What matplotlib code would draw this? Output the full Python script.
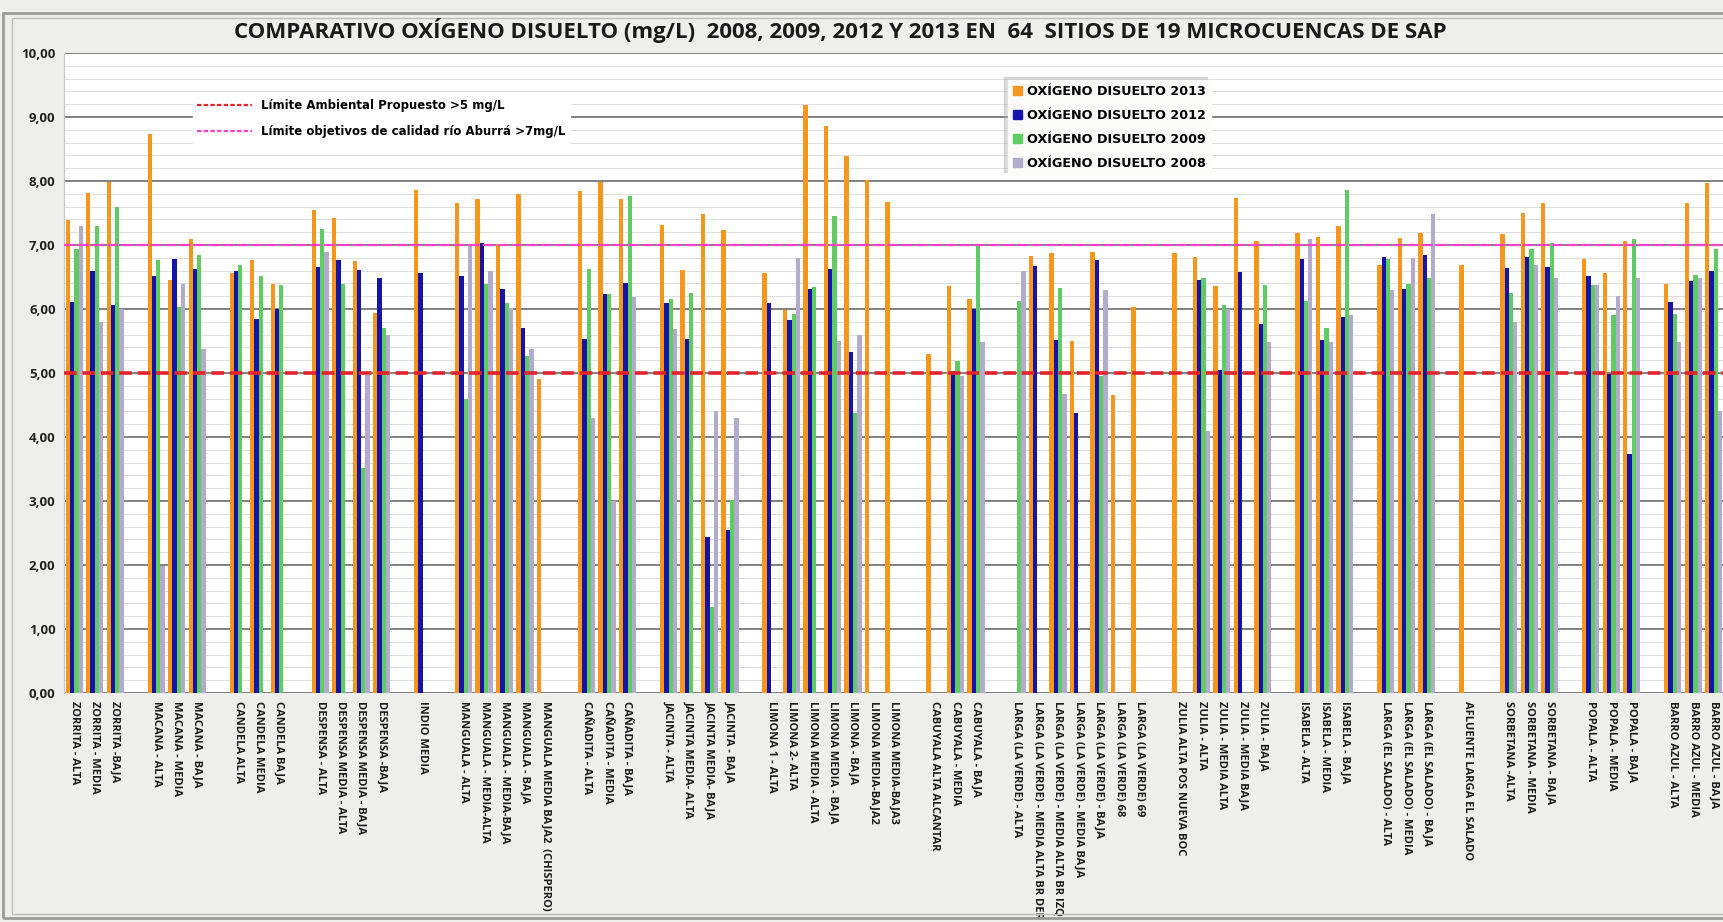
import numpy as np
import matplotlib.pyplot as plt
from matplotlib.lines import Line2D
from matplotlib.patches import Patch, Rectangle
from matplotlib.ticker import MultipleLocator

# sites in chart order, "" marks the empty slot between microcuencas
sites = [
    "ZORRITA - ALTA", "ZORRITA - MEDIA", "ZORRITA -BAJA", "",
    "MACANA - ALTA", "MACANA - MEDIA", "MACANA - BAJA", "",
    "CANDELA ALTA", "CANDELA MEDIA", "CANDELA BAJA", "",
    "DESPENSA - ALTA", "DESPENSA MEDIA - ALTA", "DESPENSA MEDIA - BAJA", "DESPENSA -BAJA", "",
    "INDIO MEDIA", "",
    "MANGUALA - ALTA", "MANGUALA - MEDIA-ALTA", "MANGUALA - MEDIA-BAJA", "MANGUALA - BAJA",
    "MANGUALA MEDIA BAJA2  (CHISPERO)", "",
    "CAÑADITA - ALTA", "CAÑADITA - MEDIA", "CAÑADITA - BAJA", "",
    "JACINTA - ALTA", "JACINTA MEDIA- ALTA", "JACINTA MEDIA- BAJA", "JACINTA - BAJA", "",
    "LIMONA 1 - ALTA", "LIMONA 2- ALTA", "LIMONA MEDIA - ALTA", "LIMONA MEDIA - BAJA",
    "LIMONA - BAJA", "LIMONA MEDIA-BAJA2", "LIMONA MEDIA-BAJA3", "",
    "CABUYALA ALTA ALCANTAR", "CABUYALA - MEDIA", "CABUYALA - BAJA", "",
    "LARGA (LA VERDE) - ALTA", "LARGA (LA VERDE) - MEDIA ALTA BR DER",
    "LARGA (LA VERDE) - MEDIA ALTA BR IZQ", "LARGA (LA VERDE) - MEDIA BAJA",
    "LARGA (LA VERDE) - BAJA", "LARGA (LA VERDE) 68", "LARGA (LA VERDE) 69", "",
    "ZULIA ALTA POS NUEVA BOC", "ZULIA - ALTA", "ZULIA - MEDIA ALTA", "ZULIA - MEDIA BAJA",
    "ZULIA - BAJA", "",
    "ISABELA - ALTA", "ISABELA - MEDIA", "ISABELA - BAJA", "",
    "LARGA (EL SALADO) - ALTA", "LARGA (EL SALADO) - MEDIA", "LARGA (EL SALADO) - BAJA", "",
    "AFLUENTE LARGA EL SALADO", "",
    "SORBETANA -ALTA", "SORBETANA - MEDIA", "SORBETANA - BAJA", "",
    "POPALA - ALTA", "POPALA - MEDIA", "POPALA - BAJA", "",
    "BARRO AZUL - ALTA", "BARRO AZUL - MEDIA", "BARRO AZUL - BAJA",
]

od_2013 = [
    7.39, 7.81, 7.99, None,
    8.73, 6.46, 7.09, None,
    6.56, 6.77, 6.39, None,
    7.54, 7.42, 6.75, 5.94, None,
    7.86, None,
    7.66, 7.72, 7.01, 7.79, 4.91, None,
    7.85, 7.99, 7.72, None,
    7.31, 6.61, 7.49, 7.24, None,
    6.57, 5.98, 9.19, 8.86, 8.39, 8.01, 7.67, None,
    5.29, 6.36, 6.15, None,
    None, 6.83, 6.88, 5.50, 6.89, 4.66, 6.03, None,
    6.88, 6.82, 6.36, 7.74, 7.07, None,
    7.19, 7.12, 7.30, None,
    6.69, 7.11, 7.19, None,
    6.69, None,
    7.17, 7.50, 7.66, None,
    6.78, 6.56, 7.07, None,
    6.39, 7.66, 7.97,
]

od_2012 = [
    6.11, 6.60, 6.07, None,
    6.51, 6.78, 6.63, None,
    6.59, 5.85, 6.00, None,
    6.65, 6.76, 6.61, 6.49, None,
    6.56, None,
    6.52, 7.03, 6.32, 5.71, None, None,
    5.53, 6.23, 6.40, None,
    6.09, 5.53, 2.43, 2.55, None,
    6.09, 5.83, 6.32, 6.63, 5.33, None, None, None,
    None, 5.03, 6.00, None,
    None, 6.67, 5.51, 4.37, 6.76, None, None, None,
    None, 6.45, 5.04, 6.58, 5.77, None,
    6.78, 5.51, 5.88, None,
    6.81, 6.32, 6.84, None,
    None, None,
    6.64, 6.81, 6.65, None,
    6.52, 4.98, 3.73, None,
    6.11, 6.44, 6.59,
]

od_2009 = [
    6.94, 7.29, 7.59, None,
    6.77, 6.03, 6.84, None,
    6.69, 6.52, 6.38, None,
    7.25, 6.39, 3.51, 5.70, None,
    None, None,
    4.59, 6.39, 6.10, 5.27, None, None,
    6.63, 6.23, 7.77, None,
    6.15, 6.25, 1.35, 3.02, None,
    None, 5.92, 6.35, 7.45, 4.38, None, None, None,
    None, 5.18, 7.02, None,
    6.12, None, 6.33, None, 4.96, None, None, None,
    None, 6.49, 6.07, None, 6.38, None,
    6.12, 5.71, 7.86, None,
    6.78, 6.39, 6.49, None,
    None, None,
    6.25, 6.94, 7.03, None,
    6.38, 5.90, 7.09, None,
    5.92, 6.53, 6.93,
]

od_2008 = [
    7.29, 5.80, 6.00, None,
    1.99, 6.39, 5.38, None,
    None, None, None, None,
    6.89, None, 4.97, 5.59, None,
    None, None,
    7.00, 6.59, 6.02, 5.38, None, None,
    4.29, 3.00, 6.19, None,
    5.68, None, 4.40, 4.30, None,
    None, 6.80, None, 5.50, 5.59, None, None, None,
    None, 4.95, 5.48, None,
    6.59, None, 4.67, None, 6.29, None, None, None,
    None, 4.10, 6.00, None, 5.48, None,
    7.10, 5.48, 5.90, None,
    6.29, 6.79, 7.48, None,
    None, None,
    5.80, 6.69, 6.49, None,
    6.38, 6.21, 6.49, None,
    5.48, 6.49, 4.40,
]

series_labels = ["OXÍGENO DISUELTO 2013", "OXÍGENO DISUELTO 2012",
                 "OXÍGENO DISUELTO 2009", "OXÍGENO DISUELTO 2008"]
series_colors = ["#F7961C", "#1414A8", "#5FCB62", "#B2ABCB"]

limite_ambiental = 5
limite_aburra = 7

title = ("COMPARATIVO OXÍGENO DISUELTO (mg/L)  2008, 2009, 2012 Y 2013 EN  64  "
         "SITIOS DE 19 MICROCUENCAS DE SAP")


def main():
    plt.rcParams['font.family'] = ['Open Sans', 'DejaVu Sans']

    fig = plt.figure(figsize=(17.24, 9.22), dpi=100, facecolor='#EEEEEC')
    # outer double frame of the chart object
    fig.patches.append(Rectangle((0.002, 0.004), 1.2, 0.982, transform=fig.transFigure,
                                 fill=False, edgecolor='#9A9A9A', lw=2.0))
    fig.patches.append(Rectangle((0.007, 0.009), 1.2, 0.972, transform=fig.transFigure,
                                 fill=False, edgecolor='#BDBDBD', lw=1.0))

    ax = fig.add_axes([0.0371, 0.2484, 0.9629, 0.6941])
    ax.set_facecolor('white')

    x = np.arange(len(sites))
    w = 0.21
    all_series = [od_2013, od_2012, od_2009, od_2008]
    for i, vals in enumerate(all_series):
        ax.bar(x + (i - 1.5) * w, np.array(vals, dtype=float), w,
               color=series_colors[i], label=series_labels[i], zorder=2, linewidth=0)

    ax.axhline(limite_ambiental, color='#E3232B', lw=2.6, dashes=(3.5, 1.6), zorder=3)
    ax.axhline(limite_aburra, color='#FF3FC8', lw=1.6, dashes=(5, 1.5), zorder=3)

    ax.set_xlim(-0.5, len(sites) - 0.5)
    ax.set_ylim(0, 10)
    ax.set_yticks(range(0, 11))
    ax.set_yticklabels([f"{v:.2f}".replace('.', ',') for v in range(0, 11)],
                       fontsize=9.5, fontweight='bold', color='#222222')
    ax.yaxis.set_minor_locator(MultipleLocator(0.2))
    ax.grid(axis='y', which='major', color='#6B6B6B', lw=1.2, zorder=1)
    ax.grid(axis='y', which='minor', color='#DCDCDC', lw=0.7, zorder=0)
    ax.set_axisbelow(True)
    ax.tick_params(axis='y', which='both', length=0, pad=6)

    ax.set_xticks(x)
    ax.set_xticklabels(sites, rotation=-90, ha='center', va='top',
                       fontsize=8, fontweight='bold', color='#1A1A1A')
    ax.tick_params(axis='x', length=0, pad=6)

    for side in ['top', 'right', 'bottom']:
        ax.spines[side].set_visible(False)
    ax.spines['left'].set_color('#C8C8C8')

    # legend for the two limit lines
    line_handles = [
        Line2D([], [], color='#E3232B', lw=1.6, dashes=(2, 1)),
        Line2D([], [], color='#FF3FC8', lw=1.6, dashes=(2, 1)),
    ]
    leg1 = ax.legend(line_handles,
                     ["Límite Ambiental Propuesto >5 mg/L",
                      "Límite objetivos de calidad río Aburrá >7mg/L"],
                     loc='upper left', bbox_to_anchor=(0.074, 0.944),
                     frameon=True, facecolor='white', edgecolor='white', framealpha=1,
                     fancybox=False, handlelength=4.6, labelspacing=1.1,
                     prop={'family': 'DejaVu Sans', 'weight': 'bold', 'size': 8.5})
    ax.add_artist(leg1)

    bar_handles = [Patch(color=c) for c in series_colors]
    ax.legend(bar_handles, series_labels, loc='upper left',
              bbox_to_anchor=(0.565, 0.968), frameon=True, facecolor='#FAFAF8',
              edgecolor='#FAFAF8', framealpha=1, fancybox=False,
              shadow={'ox': -3, 'oy': 2, 'color': '#A8A8A8', 'alpha': 0.4},
              handlelength=0.7, handleheight=0.7, handletextpad=0.4,
              labelspacing=0.85,
              prop={'family': 'DejaVu Sans', 'weight': 'bold', 'size': 9.2})

    fig.text(0.4876, 0.967, title, ha='center', va='center',
             fontsize=16, fontweight='bold', color='#1A1A1A')

    fig.savefig('out.png', dpi=100, facecolor=fig.get_facecolor())


if __name__ == "__main__":
    main()
